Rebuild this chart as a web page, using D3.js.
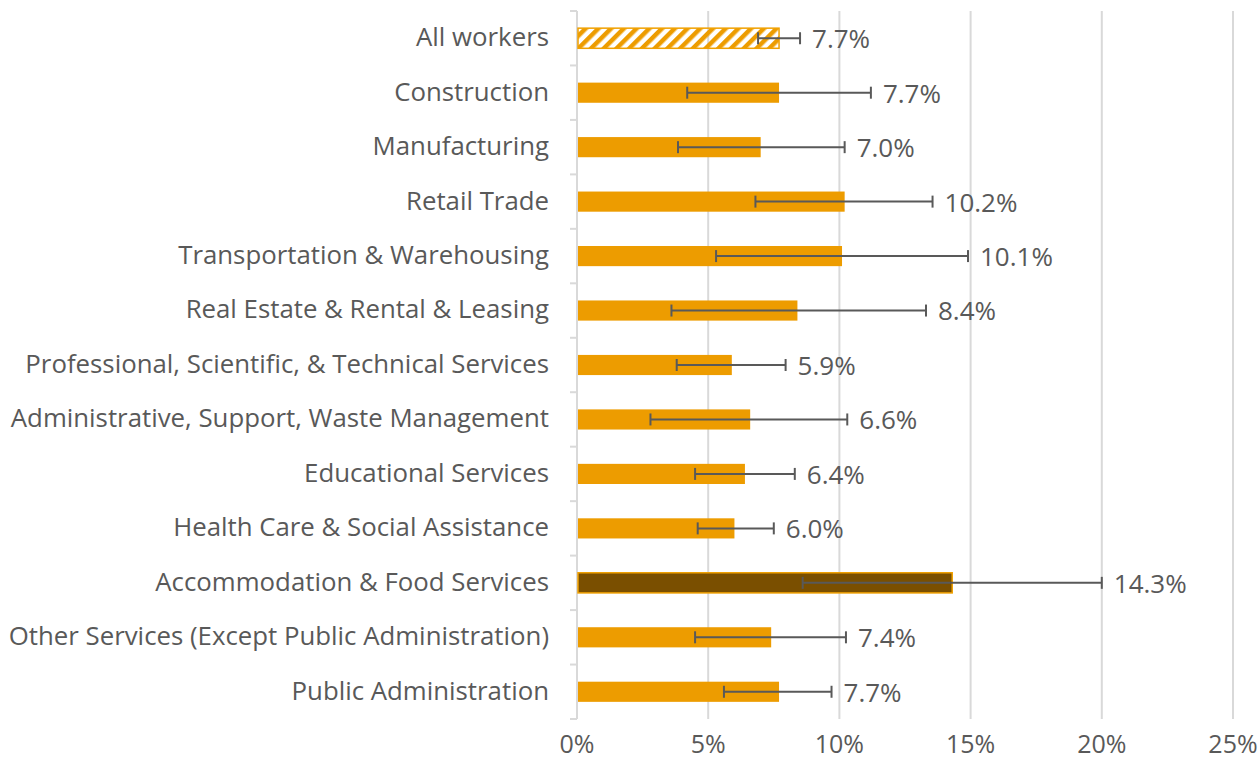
<!DOCTYPE html>
<html lang="en">
<head>
<meta charset="UTF-8">
<title>Share by industry</title>
<script src="https://d3js.org/d3.v7.min.js"></script>
<style>
    body { margin: 0; background: #fff; }
    text { font-family: "Open Sans", sans-serif; fill: #595959; }
</style>
</head>
<body>
<div id="chart"></div>
<script>
    // data
    var industries = [
        "All workers", "Construction", "Manufacturing", "Retail Trade",
        "Transportation & Warehousing", "Real Estate & Rental & Leasing",
        "Professional, Scientific, & Technical Services",
        "Administrative, Support, Waste Management", "Educational Services",
        "Health Care & Social Assistance", "Accommodation & Food Services",
        "Other Services (Except Public Administration)", "Public Administration"
    ];
    var values = [7.7, 7.7, 7.0, 10.2, 10.1, 8.4, 5.9, 6.6, 6.4, 6.0, 14.3, 7.4, 7.7];
    var lowerCI = [6.9, 4.2, 3.85, 6.8, 5.3, 3.6, 3.8, 2.8, 4.5, 4.6, 8.6, 4.5, 5.6];
    var upperCI = [8.5, 11.2, 10.2, 13.55, 14.9, 13.3, 7.95, 10.3, 8.3, 7.5, 20.0, 10.25, 9.7];
    var xTicks = [0, 5, 10, 15, 20, 25];

    var width = 1258, height = 770;
    var margin = { top: 11, right: 25, bottom: 51, left: 577 };

    var svg = d3.select("#chart").append("svg")
        .attr("width", width)
        .attr("height", height);

    var x = d3.scaleLinear()
        .domain([0, 25])
        .range([margin.left, width - margin.right]);

    var y = d3.scaleBand()
        .domain(industries)
        .range([margin.top, height - margin.bottom])
        .paddingInner(0.63)
        .paddingOuter(0.315);

    // hatch pattern for the "All workers" bar
    var defs = svg.append("defs");
    defs.append("pattern")
        .attr("id", "hatch")
        .attr("patternUnits", "userSpaceOnUse")
        .attr("width", 9)
        .attr("height", 9)
        .attr("patternTransform", "rotate(45)")
        .append("rect")
        .attr("width", 4.5)
        .attr("height", 9)
        .attr("fill", "#ED9C00");

    // gridlines
    svg.append("g")
        .selectAll("line")
        .data(xTicks.slice(1))
        .join("line")
        .attr("x1", d => x(d)).attr("x2", d => x(d))
        .attr("y1", margin.top).attr("y2", height - margin.bottom)
        .attr("stroke", "#d9d9d9")
        .attr("stroke-width", 2);

    // vertical category axis with tick marks at band edges
    var step = y.step();
    var edges = d3.range(industries.length + 1).map(i => margin.top + i * step);
    svg.append("line")
        .attr("x1", x(0)).attr("x2", x(0))
        .attr("y1", margin.top).attr("y2", height - margin.bottom)
        .attr("stroke", "#d9d9d9").attr("stroke-width", 2);
    svg.append("g")
        .selectAll("line")
        .data(edges)
        .join("line")
        .attr("x1", x(0) - 7).attr("x2", x(0))
        .attr("y1", d => d).attr("y2", d => d)
        .attr("stroke", "#d9d9d9").attr("stroke-width", 2);

    // bars
    svg.append("g")
        .selectAll("rect")
        .data(industries)
        .join("rect")
        .attr("x", x(0) + 1)
        .attr("y", d => y(d))
        .attr("width", (d, i) => x(values[i]) - x(0) - 1)
        .attr("height", y.bandwidth())
        .attr("fill", (d, i) => i === 0 ? "url(#hatch)" : (d === "Accommodation & Food Services" ? "#7A4F00" : "#ED9C00"))
        .attr("stroke", (d, i) => (i === 0 || d === "Accommodation & Food Services") ? "#F0A000" : "none")
        .attr("stroke-width", 1.5);

    // error bars
    var err = svg.append("g")
        .attr("stroke", "#595959")
        .attr("stroke-width", 2);
    industries.forEach(function (d, i) {
        var cy = y(d) + y.bandwidth() / 2;
        err.append("line")
            .attr("x1", x(lowerCI[i])).attr("x2", x(upperCI[i]))
            .attr("y1", cy).attr("y2", cy);
        [lowerCI[i], upperCI[i]].forEach(function (v) {
            err.append("line")
                .attr("x1", x(v)).attr("x2", x(v))
                .attr("y1", cy - 6).attr("y2", cy + 6);
        });
    });

    // value labels
    svg.append("g")
        .selectAll("text")
        .data(industries)
        .join("text")
        .attr("x", (d, i) => x(upperCI[i]) + 12)
        .attr("y", d => y(d) + y.bandwidth() / 2 + 3)
        .attr("dominant-baseline", "middle")
        .style("font-size", "26px")
        .text((d, i) => values[i].toFixed(1) + "%");

    // category labels
    svg.append("g")
        .selectAll("text")
        .data(industries)
        .join("text")
        .attr("x", x(0) - 28)
        .attr("y", d => y(d) + y.bandwidth() / 2 + 1)
        .attr("text-anchor", "end")
        .attr("dominant-baseline", "middle")
        .style("font-size", "25.8px")
        .text(d => d);

    // x tick labels
    svg.append("g")
        .selectAll("text")
        .data(xTicks)
        .join("text")
        .attr("x", d => x(d))
        .attr("y", 746)
        .attr("text-anchor", "middle")
        .attr("dominant-baseline", "middle")
        .style("font-size", "25px")
        .text(d => d + "%");
</script>
</body>
</html>
